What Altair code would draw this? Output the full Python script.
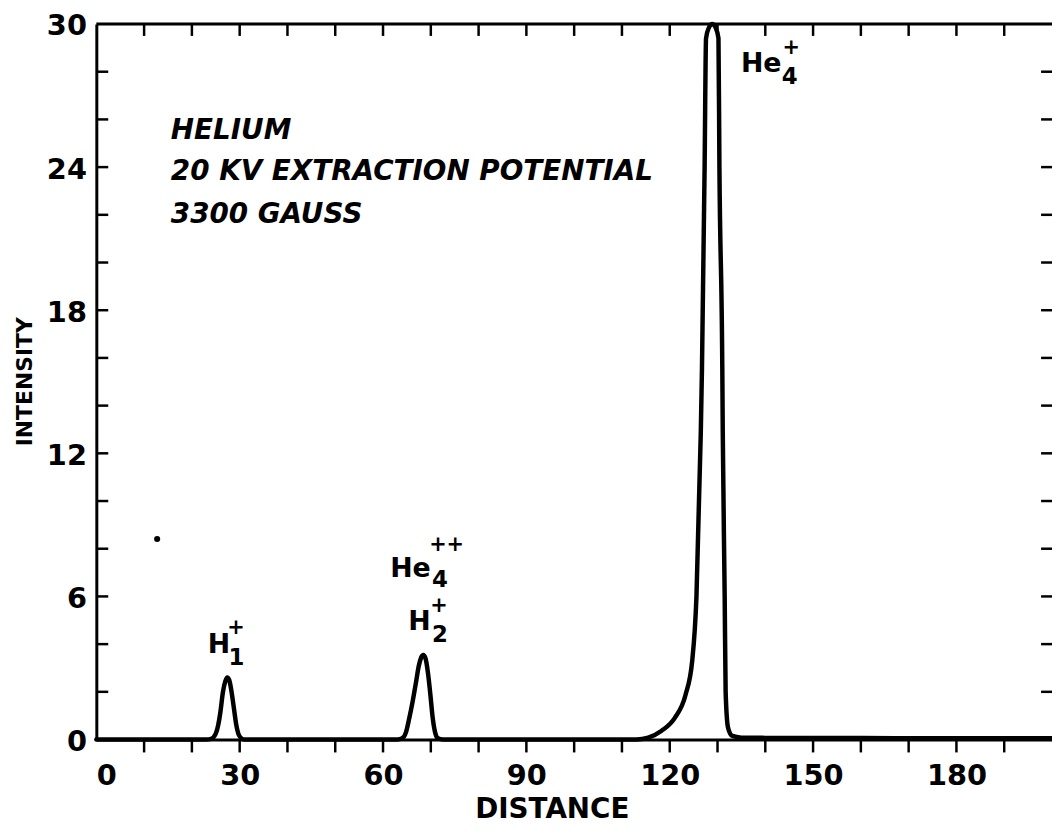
import altair as alt
import pandas as pd

# ---- data ----
distance = [0, 10, 20, 23, 24, 25, 25.5, 26, 26.5, 27, 27.4, 27.8, 28.3, 28.8, 29.3, 29.8, 30.5, 31,
            40, 50, 60, 63, 64, 64.8, 65.5, 66.2, 66.9, 67.5, 68.0, 68.4, 68.9, 69.4, 69.9, 70.4, 70.9, 71.5, 72.5,
            80, 90, 100, 108, 113, 115.5, 118.3, 121.1, 123.3, 124.7, 125.6, 126.5, 126.75, 127.3, 127.6, 128.2,
            128.9, 129.6, 130.2, 130.4, 131.0, 131.1, 131.5, 131.7, 132.2, 133.1, 135, 140, 160, 180, 200]
intensity = [0, 0, 0, 0, 0.03, 0.25, 0.6, 1.2, 2.0, 2.45, 2.6, 2.5, 2.0, 1.3, 0.6, 0.2, 0.03, 0,
             0, 0, 0, 0, 0.05, 0.3, 0.9, 1.6, 2.4, 3.1, 3.45, 3.55, 3.4, 2.8, 1.9, 0.9, 0.3, 0.05, 0,
             0, 0, 0, 0, 0, 0.08, 0.37, 0.92, 1.87, 3.29, 6.03, 12.86, 15.6, 24.0, 29.4, 29.85,
             30.0, 29.85, 29.4, 24.0, 15.6, 12.86, 6.03, 2.0, 0.5, 0.15, 0.08, 0.07, 0.06, 0.05, 0.05]

x_label_values = [0, 30, 60, 90, 120, 150, 180]
y_label_values = [0, 6, 12, 18, 24, 30]
x_minor_ticks = [10, 20, 30, 40, 50, 60, 70, 80, 90, 100, 110, 120, 130, 140, 150, 160, 170, 180, 190]
y_minor_ticks = [2, 4, 6, 8, 10, 12, 14, 16, 18, 20, 22, 24, 26, 28]

info_lines = ["HELIUM", "20 KV EXTRACTION POTENTIAL", "3300 GAUSS"]
info_x = [15.6, 15.6, 15.6]
info_y = [25.18, 23.47, 21.64]

ion_main = ["H", "He", "H", "He"]
ion_main_x = [23.3, 61.5, 65.3, 134.9]
ion_main_y = [3.62, 6.80, 4.59, 27.97]
ion_sup = ["+", "++", "+", "+"]
ion_sup_x = [29.2, 73.3, 71.7, 145.4]
ion_sup_y = [4.66, 8.16, 5.58, 28.98]
ion_sub = ["1", "4", "2", "4"]
ion_sub_x = [29.3, 71.9, 71.9, 145.1]
ion_sub_y = [3.12, 6.41, 4.11, 27.47]

dot_x = [12.73]
dot_y = [8.41]

# ---- chart ----
W, H = 963, 721
FONT = "DejaVu Sans"
xs = alt.Scale(domain=[0, 200], nice=False, zero=False)
ys = alt.Scale(domain=[0, 30], nice=False)

x_axis = alt.Axis(values=x_label_values, title="DISTANCE", grid=False, ticks=False, tickSize=0,
                  labelPadding=22, labelFontSize=29, labelFont=FONT, labelFontWeight="bold",
                  labelColor="black", domainColor="black", domainWidth=3,
                  titleFont=FONT, titleFontSize=28, titleFontWeight="bold", titleColor="black",
                  titleX=459, titleY=79, titleBaseline="alphabetic", titleAlign="center")
y_axis = alt.Axis(values=y_label_values, title="INTENSITY", grid=False, ticks=False, tickSize=0,
                  labelPadding=10, labelFontSize=29, labelFont=FONT, labelFontWeight="bold",
                  labelColor="black", labelBaseline="middle", labelOffset=2,
                  domainColor="black", domainWidth=3,
                  titleFont=FONT, titleFontSize=22, titleFontWeight="bold", titleColor="black",
                  titleX=-72, titleY=360, titleBaseline="middle", titleAlign="center", titleAngle=270)

X = alt.X("distance:Q", scale=xs, axis=x_axis)
Y = alt.Y("intensity:Q", scale=ys, axis=y_axis)

curve_df = pd.DataFrame({"distance": distance, "intensity": intensity})
line = alt.Chart(curve_df).mark_line(color="black", strokeWidth=4.5, interpolate="monotone",
                                     strokeJoin="round", strokeCap="round").encode(x=X, y=Y)

xt_df = pd.DataFrame({"distance": x_minor_ticks})
yt_df = pd.DataFrame({"intensity": y_minor_ticks})

bottom_ticks = alt.Chart(xt_df).mark_rule(color="black", strokeWidth=2.5).encode(
    x=X, y=alt.value(H), y2=alt.value(H + 13))
top_ticks = alt.Chart(xt_df).mark_rule(color="black", strokeWidth=2.5).encode(
    x=X, y=alt.value(0), y2=alt.value(12))
left_ticks = alt.Chart(yt_df).mark_rule(color="black", strokeWidth=2.5).encode(
    y=Y, x=alt.value(0), x2=alt.value(12))
right_ticks = alt.Chart(yt_df).mark_rule(color="black", strokeWidth=2.5).encode(
    y=Y, x=alt.value(W - 11), x2=alt.value(W))
top_line = alt.Chart(pd.DataFrame({"k": [0]})).mark_rule(color="black", strokeWidth=3).encode(
    x=alt.value(0), x2=alt.value(W), y=alt.value(0))

info_df = pd.DataFrame({"distance": info_x, "intensity": info_y, "t": info_lines})
info = alt.Chart(info_df).mark_text(font=FONT, fontSize=28, fontStyle="italic", fontWeight="bold",
                                    align="left", baseline="alphabetic", color="black").encode(
    x=X, y=Y, text="t:N")

main_df = pd.DataFrame({"distance": ion_main_x, "intensity": ion_main_y, "t": ion_main})
main = alt.Chart(main_df).mark_text(font=FONT, fontSize=27, fontWeight="bold", align="left",
                                    baseline="alphabetic", color="black").encode(x=X, y=Y, text="t:N")
sup_df = pd.DataFrame({"distance": ion_sup_x, "intensity": ion_sup_y, "t": ion_sup})
sup = alt.Chart(sup_df).mark_text(font=FONT, fontSize=21, fontWeight="bold", align="center",
                                  baseline="middle", color="black").encode(x=X, y=Y, text="t:N")
sub_df = pd.DataFrame({"distance": ion_sub_x, "intensity": ion_sub_y, "t": ion_sub})
sub = alt.Chart(sub_df).mark_text(font=FONT, fontSize=23, fontWeight="bold", align="center",
                                  baseline="alphabetic", color="black").encode(x=X, y=Y, text="t:N")

dot_df = pd.DataFrame({"distance": dot_x, "intensity": dot_y})
dot = alt.Chart(dot_df).mark_circle(color="black", size=38, opacity=1).encode(x=X, y=Y)

chart = alt.layer(line, bottom_ticks, top_ticks, left_ticks, right_ticks, top_line,
                  info, main, sup, sub, dot).properties(
    width=W, height=H,
    autosize=alt.AutoSizeParams(type="none"),
    padding={"left": 89, "top": 13, "right": 0, "bottom": 84},
    background="white",
).configure_view(stroke=None)

chart.save("out.html", embed_options={"renderer": "svg", "actions": False})
